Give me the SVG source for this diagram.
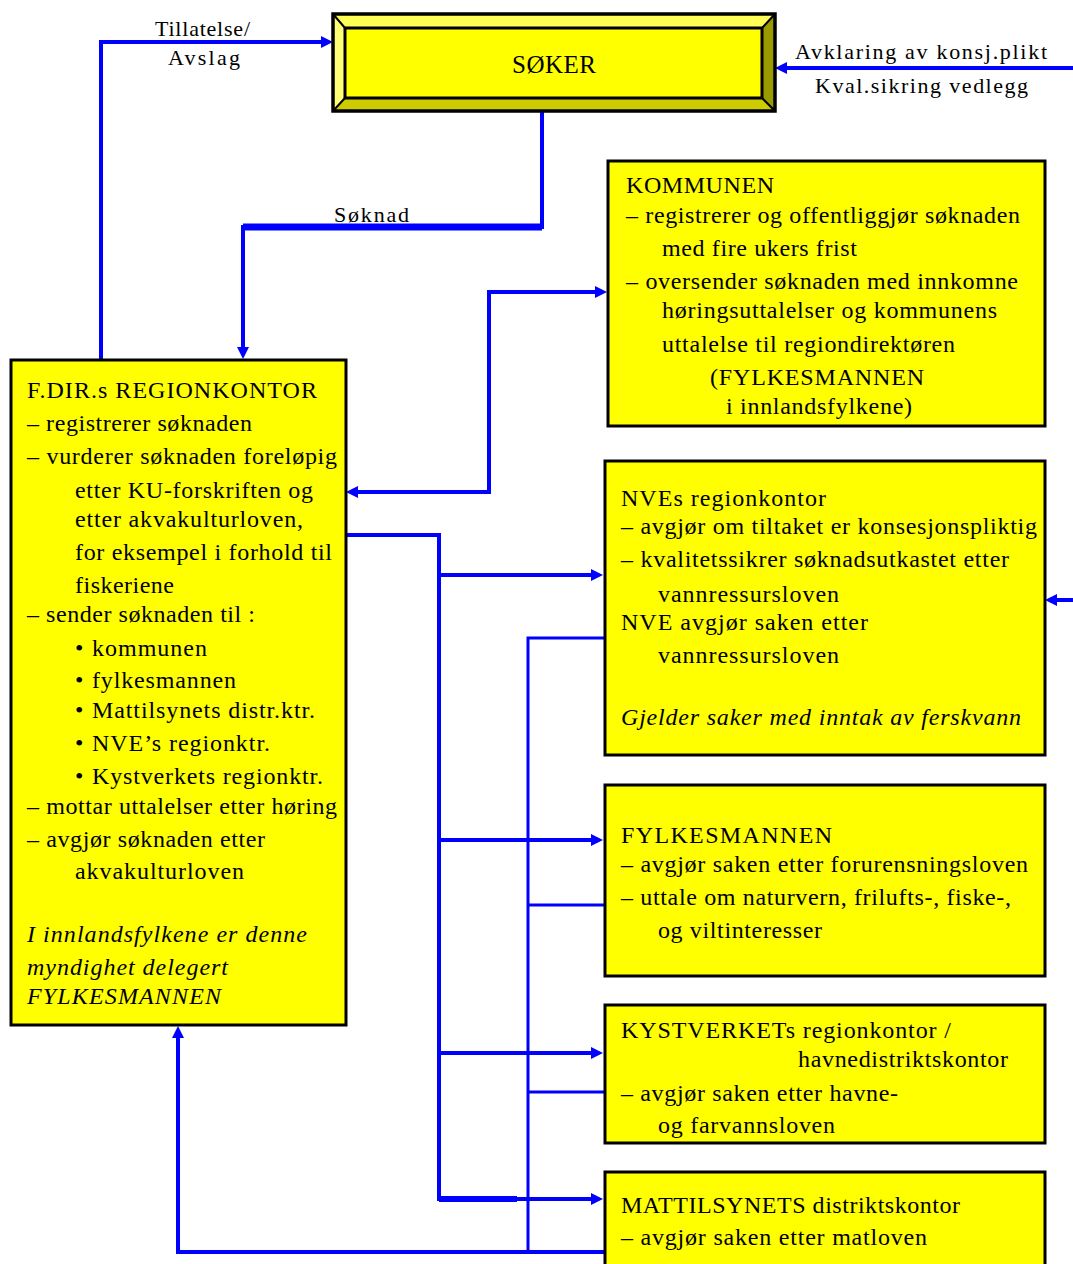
<svg xmlns="http://www.w3.org/2000/svg" width="1073" height="1264" viewBox="0 0 1073 1264">
<style>
.t{font-family:"Liberation Serif","Times New Roman",serif;font-size:24px;fill:#000}
.i{font-style:italic}
.lbl{font-family:"Liberation Serif","Times New Roman",serif;font-size:22px;fill:#000}
.box{fill:#FFFF00;stroke:#000;stroke-width:3}
.c{fill:none;stroke:#0000FF;stroke-width:4;stroke-linejoin:miter}
.cr{fill:none;stroke:#0000FF;stroke-width:3}
.ar{marker-end:url(#ah)}
</style>
<defs>
<marker id="ah" viewBox="0 0 12 12" refX="8" refY="6" markerWidth="12" markerHeight="12" markerUnits="userSpaceOnUse" orient="auto-start-reverse"><path d="M0,0 L12,6 L0,12 z" fill="#0000FF"/></marker>
</defs>
<rect width="1073" height="1264" fill="#FFFFFF"/>

<g id="connectors">
<path class="c ar" d="M101,360 V42 H329"/>
<path class="c ar" d="M1073,68 H779"/>
<path class="c ar" d="M542,106 V227 H243 V355"/>
<path d="M243,227 H542" stroke="#0000FF" stroke-width="7" fill="none"/>
<path class="c ar" d="M350,492 H489 V292 H603" marker-start="url(#ah)"/>
<path class="c ar" d="M346,535 H439 V1199 H599"/>
<path d="M439,1199 H517" stroke="#0000FF" stroke-width="6" fill="none"/>
<path class="c ar" d="M439,575 H599"/>
<path class="c ar" d="M439,840 H599"/>
<path class="c ar" d="M439,1053 H599"/>
<path class="cr" d="M604,638 H528 V1252"/>
<path class="cr" d="M604,905 H528"/>
<path class="cr" d="M604,1092 H528"/>
<path class="c ar" d="M604,1252 H178 V1030"/>
<path class="c ar" d="M1073,600 H1049"/>
</g>

<g id="labels">
<text class="lbl" x="155" y="36" textLength="95">Tillatelse/</text>
<text class="lbl" x="168" y="65" textLength="72">Avslag</text>
<text class="lbl" x="795" y="59" textLength="252">Avklaring av konsj.plikt</text>
<text class="lbl" x="815" y="93" textLength="213">Kval.sikring vedlegg</text>
<text class="lbl" x="334" y="222" textLength="75">Søknad</text>
</g>

<g id="soker">
<polygon points="333,14 775,14 762,28 345,28" fill="#FFFF55"/>
<polygon points="333,14 345,28 345,98 333,111" fill="#FFFF77"/>
<polygon points="333,111 345,98 762,98 775,111" fill="#CCCC00"/>
<polygon points="775,14 775,111 762,98 762,28" fill="#999900"/>
<rect x="345" y="28" width="417" height="70" fill="#FFFF00" stroke="#000" stroke-width="3"/>
<rect x="333" y="14" width="442" height="97" fill="none" stroke="#000" stroke-width="3.5"/>
<path d="M333,14 L345,28 M775,14 L762,28 M333,111 L345,98 M775,111 L762,98" stroke="#000" stroke-width="2"/>
<text class="t" x="512" y="73" style="font-size:25px" textLength="84">SØKER</text>
</g>

<g id="fdir">
<rect class="box" x="11" y="360" width="335" height="665"/>
<text class="t" x="27" y="398" textLength="290">F.DIR.s REGIONKONTOR</text>
<text class="t" x="27" y="431" textLength="225">– registrerer søknaden</text>
<text class="t" x="27" y="464" textLength="310">– vurderer søknaden foreløpig</text>
<text class="t" x="75" y="498" textLength="238">etter KU-forskriften og</text>
<text class="t" x="75" y="527" textLength="228">etter akvakulturloven,</text>
<text class="t" x="75" y="560" textLength="257">for eksempel i forhold til</text>
<text class="t" x="75" y="593" textLength="99">fiskeriene</text>
<text class="t" x="27" y="622" textLength="228">– sender søknaden til :</text>
<text class="t" x="75" y="656">•</text><text class="t" x="92" y="656" textLength="115">kommunen</text>
<text class="t" x="75" y="688">•</text><text class="t" x="92" y="688" textLength="144">fylkesmannen</text>
<text class="t" x="75" y="718">•</text><text class="t" x="92" y="718" textLength="223">Mattilsynets distr.ktr.</text>
<text class="t" x="75" y="751">•</text><text class="t" x="92" y="751" textLength="178">NVE’s regionktr.</text>
<text class="t" x="75" y="784">•</text><text class="t" x="92" y="784" textLength="231">Kystverkets regionktr.</text>
<text class="t" x="27" y="814" textLength="310">– mottar uttalelser etter høring</text>
<text class="t" x="27" y="847" textLength="238">– avgjør søknaden etter</text>
<text class="t" x="75" y="879" textLength="169">akvakulturloven</text>
<text class="t i" x="27" y="942" textLength="280">I  innlandsfylkene er denne</text>
<text class="t i" x="27" y="975" textLength="201">myndighet delegert</text>
<text class="t i" x="27" y="1004" textLength="194">FYLKESMANNEN</text>
</g>

<g id="kommunen">
<rect class="box" x="608" y="161" width="437" height="265"/>
<text class="t" x="626" y="193" textLength="148">KOMMUNEN</text>
<text class="t" x="626" y="223" textLength="394">– registrerer og offentliggjør søknaden</text>
<text class="t" x="662" y="256" textLength="195">med fire ukers frist</text>
<text class="t" x="626" y="289" textLength="392">– oversender søknaden med innkomne</text>
<text class="t" x="662" y="318" textLength="335">høringsuttalelser og kommunens</text>
<text class="t" x="662" y="352" textLength="293">uttalelse til regiondirektøren</text>
<text class="t" x="710" y="385" textLength="214">(FYLKESMANNEN</text>
<text class="t" x="726" y="414" textLength="186">i innlandsfylkene)</text>
</g>

<g id="nve">
<rect class="box" x="605" y="461" width="440" height="294"/>
<text class="t" x="621" y="506" textLength="205">NVEs regionkontor</text>
<text class="t" x="621" y="534" textLength="416">– avgjør om tiltaket er konsesjonspliktig</text>
<text class="t" x="621" y="567" textLength="388">– kvalitetssikrer søknadsutkastet etter</text>
<text class="t" x="658" y="602" textLength="181">vannressursloven</text>
<text class="t" x="621" y="630" textLength="247">NVE avgjør saken etter</text>
<text class="t" x="658" y="663" textLength="181">vannressursloven</text>
<text class="t i" x="621" y="725" textLength="400">Gjelder saker med inntak av ferskvann</text>
</g>

<g id="fylkesmannen">
<rect class="box" x="605" y="785" width="440" height="191"/>
<text class="t" x="621" y="843" textLength="211">FYLKESMANNEN</text>
<text class="t" x="621" y="872" textLength="407">– avgjør saken etter forurensningsloven</text>
<text class="t" x="621" y="905" textLength="390">– uttale om naturvern, frilufts-, fiske-,</text>
<text class="t" x="658" y="938" textLength="164">og viltinteresser</text>
</g>

<g id="kystverket">
<rect class="box" x="605" y="1005" width="440" height="138"/>
<text class="t" x="621" y="1038" textLength="330">KYSTVERKETs regionkontor /</text>
<text class="t" x="798" y="1067" textLength="210">havnedistriktskontor</text>
<text class="t" x="621" y="1101" textLength="277">– avgjør saken etter havne-</text>
<text class="t" x="658" y="1133" textLength="177">og farvannsloven</text>
</g>

<g id="mattilsynet">
<rect class="box" x="605" y="1172" width="440" height="100"/>
<text class="t" x="621" y="1213" textLength="339">MATTILSYNETS distriktskontor</text>
<text class="t" x="621" y="1245" textLength="306">– avgjør saken etter matloven</text>
</g>
</svg>
